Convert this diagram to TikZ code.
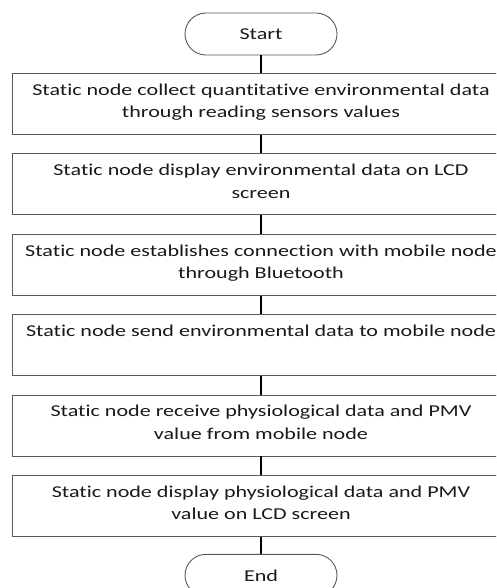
\documentclass[tikz,border=0pt]{standalone}
\usepackage{fontspec}
\setmainfont{Carlito}[FakeStretch=1.33, Ligatures=NoCommon]
\usetikzlibrary{positioning}

\begin{document}
\begin{tikzpicture}[
    x=1pt, y=1pt,
    box/.style={draw=black!65, line width=0.9pt, rectangle, align=center,
        minimum width=498pt, inner ysep=0pt, text height=44.2pt, text depth=16.8pt,
        font=\fontsize{16.6}{22.4}\selectfont, text=black!90},
    term/.style={draw=black!65, line width=0.9pt, rectangle, rounded corners=21pt,
        minimum width=152pt, minimum height=42pt,
        font=\fontsize{16.6}{22.4}\selectfont, text=black!90},
    link/.style={line width=2.6pt, black}
]
\clip (0,0) rectangle (496,-588);

\node[term] (start) at (261,-34) {Start};

\node[box, below=17.5pt of start] (collect)
{Static node collect quantitative environmental data\\through reading sensors values};
\node[box, below=18.5pt of collect] (showenv)
{Static node display environmental data on LCD\\screen};
\node[box, below=18.5pt of showenv] (connect)
{Static node establishes connection with mobile node\\through Bluetooth};
\node[box, below=18.5pt of connect] (send)
{Static node send environmental data to mobile node\\\mbox{}};
\node[box, below=18.5pt of send] (receive)
{Static node receive physiological data and PMV\\value from mobile node};
\node[box, below=18.5pt of receive] (showphys)
{Static node display physiological data and PMV\\value on LCD screen};

\node[term, below=17pt of showphys] (end) {End};

\draw[link] (start) -- (collect);
\draw[link] (collect) -- (showenv);
\draw[link] (showenv) -- (connect);
\draw[link] (connect) -- (send);
\draw[link] (send) -- (receive);
\draw[link] (receive) -- (showphys);
\draw[link] (showphys) -- (end);

\end{tikzpicture}
\end{document}
